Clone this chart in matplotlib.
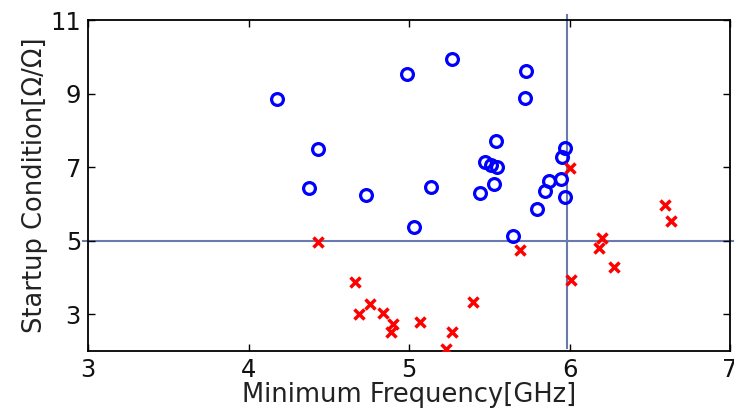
import matplotlib
matplotlib.use("Agg")
import matplotlib.pyplot as plt

# Oscillating designs (blue circles)
osc_freq = [4.18, 4.435, 4.38, 4.73, 4.985, 5.03, 5.135, 5.27, 5.73, 5.725,
            5.54, 5.475, 5.51, 5.55, 5.53, 5.44, 5.97, 5.955, 5.945, 5.875,
            5.85, 5.97, 5.795, 5.65]
osc_cond = [8.86, 7.48, 6.43, 6.24, 9.54, 5.38, 6.47, 9.93, 9.61, 8.89,
            7.70, 7.13, 7.07, 6.99, 6.55, 6.29, 7.52, 7.27, 6.67, 6.61,
            6.36, 6.20, 5.86, 5.12]

# Failing designs (red crosses)
fail_freq = [4.43, 4.665, 4.69, 4.755, 4.835, 4.90, 4.89, 5.07, 5.23, 5.27,
             5.40, 5.69, 6.00, 6.01, 6.185, 6.20, 6.28, 6.595, 6.63]
fail_cond = [4.97, 3.88, 3.00, 3.29, 3.03, 2.73, 2.53, 2.80, 2.06, 2.53,
             3.33, 4.74, 6.98, 3.94, 4.79, 5.06, 4.29, 5.97, 5.54]

threshold_freq = 5.985
threshold_cond = 5.0

x_ticks = [3, 4, 5, 6, 7]
y_ticks = [3, 5, 7, 9, 11]

fig = plt.figure(figsize=(7.34, 4.13), dpi=100)
ax = fig.add_axes([88 / 734, 1 - 351 / 413, 642 / 734, 331 / 413])

line_color = "#6a7aae"
ax.axhline(threshold_cond, xmin=-0.008, xmax=1.008, color=line_color,
           lw=1.5, clip_on=False, zorder=1)
ax.axvline(threshold_freq, ymin=0.009, ymax=1.015, color=line_color,
           lw=1.5, clip_on=False, zorder=1)

ax.plot(osc_freq, osc_cond, linestyle="none", marker="o", ms=8.5,
        mfc="none", mec="#0000ff", mew=2.3, zorder=3)
ax.plot(fail_freq, fail_cond, linestyle="none", marker="x", ms=7.5,
        mec="#ff0000", mew=2.5, zorder=3)

ax.set_xlim(3, 7)
ax.set_ylim(2, 11)
ax.set_xticks(x_ticks)
ax.set_yticks(y_ticks)
ax.tick_params(direction="in", length=5, width=1, top=True, right=True,
               labelsize=17.5, pad=5, labelcolor="#111111")
for s in ax.spines.values():
    s.set_linewidth(1.3)

ax.set_xlabel("Minimum Frequency[GHz]", fontsize=18.5, labelpad=0,
              color="#222222")
ax.set_ylabel("Startup Condition[Ω/Ω]", fontsize=18.5, labelpad=2,
              color="#222222")

fig.savefig("out.png", dpi=100)
